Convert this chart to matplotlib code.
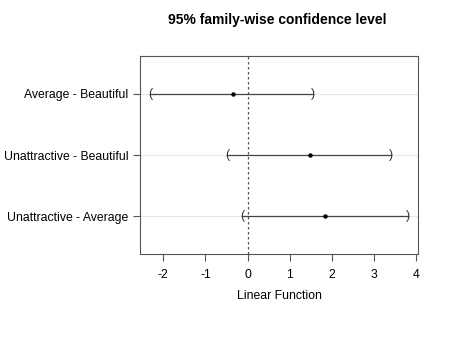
import numpy as np
import matplotlib.pyplot as plt

plt.rcParams['font.family'] = ['Liberation Sans', 'DejaVu Sans']

# Tukey HSD comparisons (top to bottom)
comparisons = ["Average - Beautiful", "Unattractive - Beautiful", "Unattractive - Average"]
diff = [-0.34, 1.48, 1.84]
lwr = [-2.31, -0.48, -0.13]
upr = [1.56, 3.40, 3.80]
xticks = [-2, -1, 0, 1, 2, 3, 4]

fig = plt.figure(figsize=(4.74, 3.4), dpi=100)
ax = fig.add_axes([140 / 474, 86 / 340, 278 / 474, 198 / 340])

n = len(comparisons)
ypos = np.arange(n, 0, -1)

for y in ypos:
    ax.axhline(y, color='#e6e6e6', lw=0.8, zorder=0)
ax.axvline(0, color='#555555', lw=0.9, ls=(0, (2, 2)), zorder=1)

for y, lo, hi, d in zip(ypos, lwr, upr, diff):
    ax.plot([lo, hi], [y, y], color='#444444', lw=0.9, zorder=2)
    ax.text(lo, y, "(", ha='center', va='center', fontsize=9, color='#333333')
    ax.text(hi, y, ")", ha='center', va='center', fontsize=9, color='#333333')
    ax.plot(d, y, 'o', color='black', ms=2.2, zorder=3)

span = max(upr) - min(lwr)
ax.set_xlim(min(lwr) - 0.04 * span, max(upr) + 0.04 * span)
ax.set_ylim(0.5 - 0.12, n + 0.5 + 0.12)
ax.set_xticks(xticks)
ax.set_xticklabels([str(t) for t in xticks])
ax.set_yticks(ypos)
ax.set_yticklabels(comparisons)
ax.tick_params(axis='both', labelsize=8.8, length=5, color='#555555', width=0.8)
ax.tick_params(axis='x', pad=6)
for s in ax.spines.values():
    s.set_color('#555555')
    s.set_linewidth(0.8)

ax.set_xlabel("Linear Function", fontsize=8.8, labelpad=6)
fig.text(0.585, 0.94, "95% family-wise confidence level", ha='center', va='center',
         fontsize=10, fontweight='bold')

fig.savefig("out.png", dpi=100)
